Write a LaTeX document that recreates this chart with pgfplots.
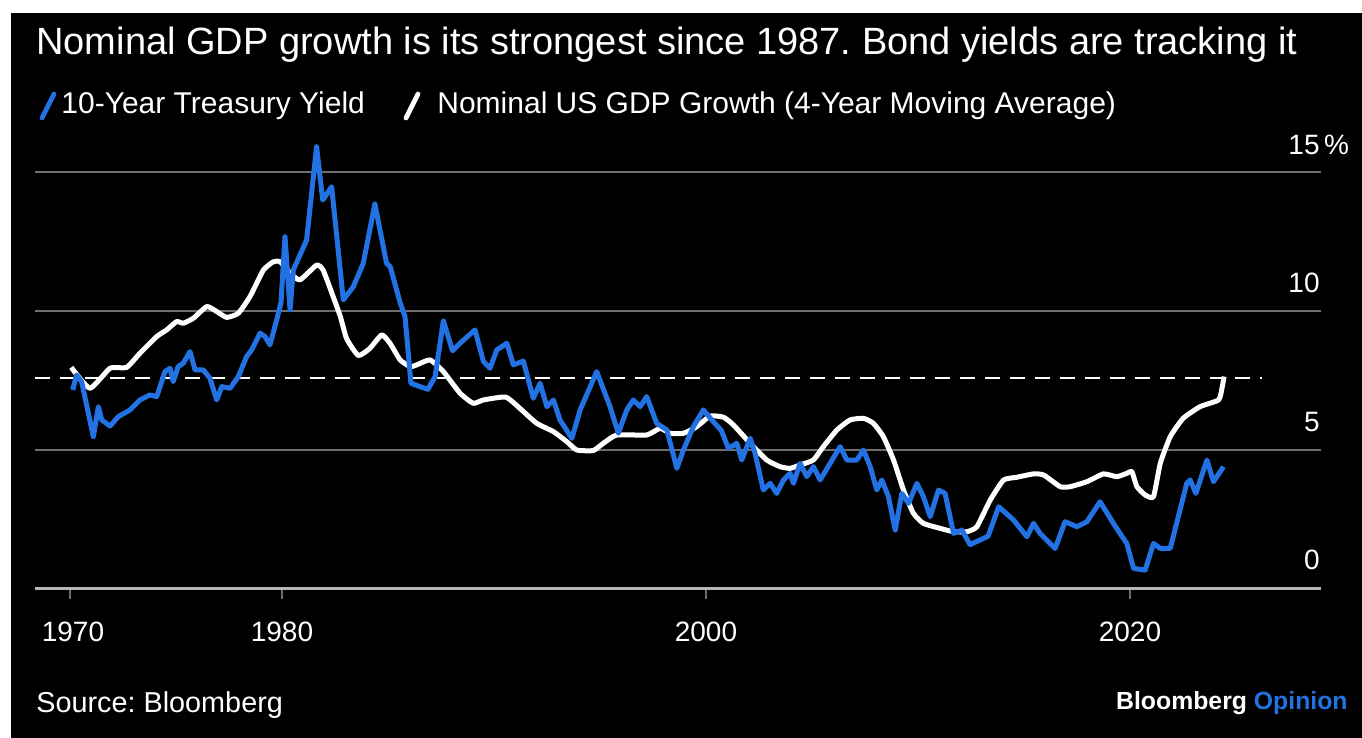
\documentclass[border=0pt]{standalone}
\usepackage{pgfplots}
\pgfplotsset{compat=1.18}
\usepackage{fontspec}
\setmainfont{Liberation Sans}
\definecolor{bblue}{HTML}{2272E3}
\definecolor{gridg}{HTML}{6E6E6E}
\definecolor{axg}{HTML}{B4B4B4}
\begin{document}
\frenchspacing
\begin{tikzpicture}[x=0.5pt,y=0.5pt]
\fill[white] (0,0) rectangle (1362,738);
\fill[black] (11,0) rectangle (1362,725);
\useasboundingbox (0,0) rectangle (1362,738);
% title & legend
\node[anchor=west,text=white,font=\fontsize{19}{22}\selectfont,inner sep=0] at (36,693) {Nominal GDP growth is its strongest since 1987. Bond yields are tracking it};
\draw[bblue,line width=2.4pt,line cap=round] (42,620) -- (54,644);
\node[anchor=west,text=white,font=\fontsize{15}{18}\selectfont,inner sep=0] at (61,632) {10-Year Treasury Yield};
\draw[white,line width=2.4pt,line cap=round] (406,620) -- (418,644);
\node[anchor=west,text=white,font=\fontsize{15}{18}\selectfont,inner sep=0] at (437,632) {Nominal US GDP Growth (4-Year Moving Average)};
% source
\node[anchor=west,text=white,font=\fontsize{14.4}{17}\selectfont,inner sep=0] at (36,33) {Source: Bloomberg};
\node[anchor=east,font=\bfseries\fontsize{12.4}{15}\selectfont,inner sep=0] at (1348,35) {\textcolor{white}{Bloomberg} \textcolor{bblue}{Opinion}};
% y labels
\node[anchor=east,text=white,font=\fontsize{14}{17}\selectfont,inner sep=0] at (1320,593) {15\rlap{\,\%}};
\node[anchor=east,text=white,font=\fontsize{14}{17}\selectfont,inner sep=0] at (1320,455) {10};
\node[anchor=east,text=white,font=\fontsize{14}{17}\selectfont,inner sep=0] at (1320,316) {5};
\node[anchor=east,text=white,font=\fontsize{14}{17}\selectfont,inner sep=0] at (1320,178) {0};
% x labels
\node[text=white,font=\fontsize{14}{17}\selectfont,inner sep=0] at (73,106) {1970};
\node[text=white,font=\fontsize{14}{17}\selectfont,inner sep=0] at (282,106) {1980};
\node[text=white,font=\fontsize{14}{17}\selectfont,inner sep=0] at (706,106) {2000};
\node[text=white,font=\fontsize{14}{17}\selectfont,inner sep=0] at (1130,106) {2020};
\begin{axis}[
  at={(17.5pt,74.5pt)}, anchor=south west,
  scale only axis, width=643pt, height=229.35pt,
  xmin=1968.35, xmax=2029.0, ymin=0, ymax=16.5,
  axis x line*=bottom, axis y line=none,
  x axis line style={axg,line width=1.5pt,-},
  xtick={1970,1980,2000,2020}, xticklabels={},
  major tick length=5pt, tick align=outside,
  xtick style={gridg,line width=0.8pt},
  ytick=\empty,
  clip=false,
]
\draw[gridg,line width=1pt] (axis cs:1968.35,5) -- (axis cs:2029.0,5);
\draw[gridg,line width=1pt] (axis cs:1968.35,10) -- (axis cs:2029.0,10);
\draw[gridg,line width=1pt] (axis cs:1968.35,15) -- (axis cs:2029.0,15);
\addplot[white,line width=1.2pt,dash pattern=on 7.5pt off 5pt] coordinates {(1968.35,7.6) (2026.2,7.6)};
\addplot[white,line width=2.5pt,line join=round,smooth,tension=0.3] coordinates {
(1970.06,7.97)(1970.94,7.22)(1971.89,7.94)(1972.67,7.97)(1973.30,8.48)(1974.09,9.08)(1974.56,9.32)
(1975.03,9.62)(1975.34,9.56)(1975.82,9.74)(1976.45,10.16)(1976.92,9.98)(1977.39,9.77)(1977.94,9.92)
(1978.49,10.52)(1979.12,11.47)(1979.59,11.77)(1979.91,11.77)(1980.40,11.35)(1980.85,11.12)(1981.63,11.65)
(1981.94,11.47)(1982.41,10.52)(1982.75,9.8)(1983.05,9.0)(1983.60,8.40)(1984.15,8.66)(1984.70,9.14)
(1985.09,8.84)(1985.57,8.24)(1986.04,8.00)(1986.35,8.06)(1986.98,8.24)(1987.61,7.82)(1988.40,7.04)
(1989.02,6.68)(1989.50,6.80)(1990.56,6.90)(1991.30,6.44)(1992.01,5.96)(1992.80,5.66)(1993.43,5.30)
(1993.90,5.00)(1994.68,4.98)(1995.15,5.24)(1995.79,5.54)(1997.20,5.54)(1997.83,5.78)(1998.30,5.60)
(1998.93,5.60)(1999.56,5.84)(2000.19,6.22)(2000.82,6.18)(2001.29,5.90)(2002.08,5.24)(2002.86,4.64)
(2003.49,4.40)(2003.96,4.34)(2004.43,4.46)(2005.06,4.64)(2005.53,5.12)(2006.17,5.72)(2006.79,6.08)
(2007.42,6.14)(2007.89,5.96)(2008.36,5.48)(2008.84,4.64)(2009.31,3.56)(2009.78,2.72)(2010.25,2.36)
(2011.04,2.18)(2011.67,2.06)(2012.30,2.06)(2012.77,2.24)(2013.40,3.20)(2014.03,3.92)(2014.66,4.02)
(2015.44,4.14)(2015.92,4.10)(2016.70,3.68)(2017.17,3.68)(2017.96,3.86)(2018.74,4.14)(2019.37,4.04)
(2019.84,4.16)(2020.08,4.22)(2020.32,3.68)(2020.71,3.38)(2021.10,3.32)(2021.42,4.52)(2021.89,5.48)
(2022.50,6.14)(2023.30,6.56)(2024.17,6.80)(2024.33,7.22)(2024.43,7.64)
};
\addplot[bblue,line width=2.5pt,line join=round] coordinates {
(1970.13,7.16)(1970.31,7.70)(1970.55,7.46)(1971.10,5.48)(1971.34,6.56)(1971.50,6.08)(1971.89,5.86)
(1972.28,6.20)(1972.83,6.44)(1973.30,6.80)(1973.77,6.98)(1974.09,6.92)(1974.48,7.82)(1974.72,7.94)
(1974.87,7.46)(1975.10,8.00)(1975.34,8.12)(1975.66,8.54)(1975.90,7.88)(1976.29,7.88)(1976.60,7.58)
(1976.92,6.80)(1977.16,7.28)(1977.55,7.22)(1977.94,7.64)(1978.33,8.36)(1978.57,8.60)(1978.96,9.20)
(1979.20,9.08)(1979.43,8.78)(1979.75,9.68)(1979.95,10.3)(1980.14,12.67)(1980.38,10.04)(1980.53,11.47)
(1981.16,12.55)(1981.63,15.91)(1981.92,13.99)(1982.34,14.47)(1982.89,10.40)(1983.36,10.87)(1983.83,11.71)
(1984.38,13.85)(1984.93,11.71)(1985.10,11.60)(1985.57,10.30)(1985.80,9.80)(1986.08,7.40)(1986.51,7.28)
(1986.88,7.18)(1987.22,7.64)(1987.61,9.65)(1988.04,8.57)(1988.48,8.90)(1989.10,9.32)(1989.50,8.18)
(1989.81,7.94)(1990.13,8.60)(1990.60,8.84)(1990.91,8.06)(1991.38,8.20)(1991.85,6.86)(1992.17,7.40)
(1992.49,6.56)(1992.80,6.80)(1993.11,6.08)(1993.67,5.42)(1994.06,6.44)(1994.84,7.82)(1995.47,6.56)
(1995.86,5.60)(1996.26,6.44)(1996.57,6.80)(1996.89,6.56)(1997.20,6.92)(1997.67,5.96)(1998.15,5.72)
(1998.62,4.34)(1998.93,5.00)(1999.40,5.84)(1999.87,6.44)(2000.34,6.02)(2000.72,5.70)(2001.05,5.06)
(2001.45,5.24)(2001.68,4.64)(2002.08,5.42)(2002.31,4.88)(2002.70,3.56)(2003.02,3.80)(2003.33,3.44)
(2003.65,3.92)(2003.96,4.16)(2004.12,3.80)(2004.43,4.52)(2004.75,4.04)(2005.06,4.40)(2005.38,3.92)
(2005.85,4.52)(2006.32,5.12)(2006.64,4.64)(2007.11,4.64)(2007.42,5.00)(2007.74,4.40)(2008.05,3.56)
(2008.29,3.92)(2008.60,3.32)(2008.92,2.12)(2009.23,3.44)(2009.55,3.08)(2009.94,3.80)(2010.25,3.32)
(2010.57,2.60)(2010.96,3.56)(2011.27,3.44)(2011.67,2.00)(2012.06,2.12)(2012.45,1.60)(2012.92,1.76)
(2013.30,1.90)(2013.80,2.96)(2014.50,2.48)(2015.13,1.88)(2015.44,2.36)(2015.75,2.00)(2016.46,1.46)
(2016.93,2.42)(2017.49,2.24)(2017.96,2.42)(2018.58,3.14)(2019.21,2.36)(2019.68,1.82)(2019.84,1.64)
(2020.16,0.74)(2020.71,0.68)(2021.10,1.64)(2021.42,1.46)(2021.89,1.46)(2022.67,3.80)(2022.83,3.92)
(2023.10,3.44)(2023.62,4.64)(2023.93,3.86)(2024.40,4.40)
};
\end{axis}
\end{tikzpicture}
\end{document}
